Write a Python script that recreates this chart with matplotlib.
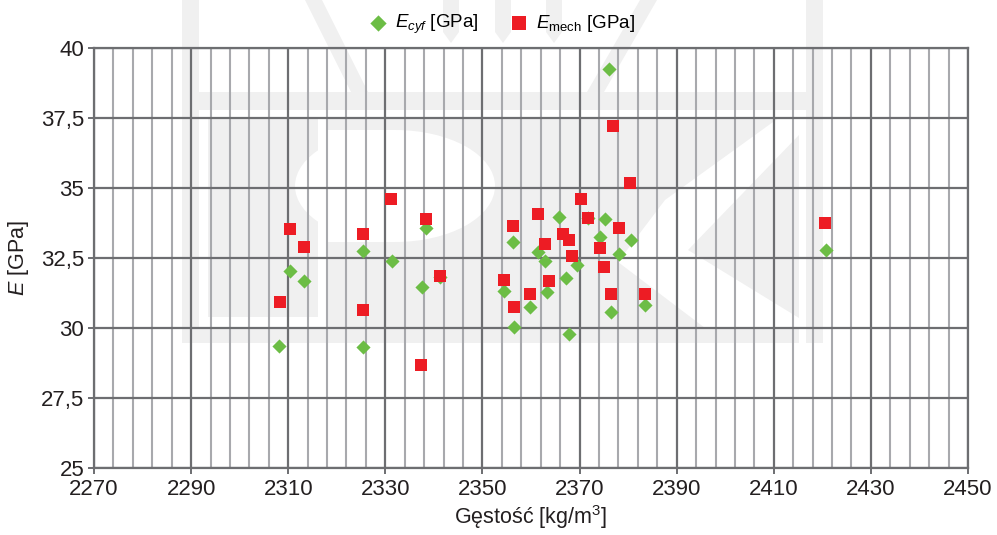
import numpy as np
import matplotlib
matplotlib.use("Agg")
import matplotlib.pyplot as plt
from matplotlib.patches import Polygon, Ellipse, Rectangle
from matplotlib.ticker import FixedLocator, FuncFormatter

plt.rcParams['font.family'] = ['Liberation Sans', 'DejaVu Sans']
plt.rcParams['mathtext.fontset'] = 'custom'
plt.rcParams['mathtext.rm'] = 'Liberation Sans'
plt.rcParams['mathtext.it'] = 'Liberation Sans:italic'

# gęstość i moduł E (cyfrowy)
gestosc_cyf = [2308.2, 2310.4, 2313.2, 2325.4, 2325.4, 2331.3, 2337.5, 2338.4, 2341.3,
               2356.3, 2361.5, 2362.9, 2365.8, 2371.8, 2375.2, 2374.2, 2380.5, 2378.1,
               2369.5, 2367.3, 2354.4, 2363.2, 2359.8, 2376.4, 2383.5, 2356.6, 2367.9,
               2376.1, 2420.7]
e_cyf = [29.38, 32.06, 31.70, 32.75, 29.34, 32.41, 31.49, 33.59, 31.84,
         33.07, 32.74, 32.41, 33.96, 33.95, 33.91, 33.27, 33.15, 32.66,
         32.25, 31.81, 31.34, 31.31, 30.76, 30.59, 30.83, 30.04, 29.79,
         39.26, 32.80]

# gęstość i moduł E (mechaniczny)
gestosc_mech = [2308.3, 2310.4, 2313.2, 2325.4, 2325.4, 2331.1, 2337.3, 2338.3, 2341.2,
                2354.4, 2356.3, 2356.5, 2359.8, 2361.4, 2362.9, 2363.7, 2366.6, 2367.8,
                2368.4, 2370.3, 2371.8, 2374.2, 2375.0, 2376.5, 2378.1, 2380.4, 2383.5,
                2376.8, 2420.5]
e_mech = [30.93, 33.54, 32.89, 33.36, 30.64, 34.61, 28.68, 33.89, 31.86,
          31.71, 33.64, 30.76, 31.21, 34.07, 33.00, 31.68, 33.37, 33.15,
          32.57, 34.61, 33.94, 32.86, 32.18, 31.21, 33.57, 35.20, 31.21,
          37.21, 33.75]

W, H = 997, 535
fig = plt.figure(figsize=(W / 100, H / 100), dpi=100)
fig.patch.set_facecolor('white')

# znak wodny w tle (współrzędne w pikselach od lewego górnego rogu)
WM = '#f0f0f0'


def pt(x, y):
    return (x / W, 1 - y / H)


def rect(x0, y0, x1, y1, color):
    fig.patches.append(Rectangle(pt(x0, y1), (x1 - x0) / W, (y1 - y0) / H,
                                 transform=fig.transFigure, color=color, lw=0, zorder=-5))


def poly(points, color):
    fig.patches.append(Polygon([pt(x, y) for x, y in points], closed=True,
                               transform=fig.transFigure, color=color, lw=0, zorder=-5))


rect(182, 92, 823, 343, WM)
rect(182, 0, 199, 343, WM)
rect(806, 0, 823, 343, WM)
# korona nad literami
poly([(305, 0), (322, 0), (368, 92), (351, 92)], WM)
poly([(443, 0), (459, 0), (459, 32), (451, 43), (443, 32)], WM)
poly([(495, 0), (511, 0), (511, 32), (503, 43), (495, 32)], WM)
poly([(546, 0), (562, 0), (562, 32), (554, 43), (546, 32)], WM)
poly([(640, 0), (657, 0), (604, 92), (587, 92)], WM)
# białe kontury liter P i K
rect(199, 110, 806, 117, 'white')
rect(199, 110, 208, 328, 'white')
rect(199, 317, 326, 328, 'white')
rect(318, 117, 326, 317, 'white')
rect(799, 110, 806, 343, 'white')
fig.patches.append(Ellipse(pt(395, 186), 200 / W, 112 / H, transform=fig.transFigure,
                           color='white', lw=0, zorder=-5))
rect(326, 130, 395, 242, 'white')
poly([(780, 117), (799, 117), (799, 135), (688, 250), (799, 318), (799, 328),
      (705, 328), (618, 262), (665, 200)], 'white')

ax = fig.add_axes([94 / W, 1 - 468.3 / H, 874 / W, 420 / H])
ax.set_facecolor('none')

ax.scatter(gestosc_cyf, e_cyf, marker='D', s=52, color='#6cbd45', lw=0, zorder=3,
           label=r'$\mathit{E}_{\mathit{cyf}}$ [GPa]')
ax.scatter(gestosc_mech, e_mech, marker='s', s=76, color='#ed1c24', lw=0, zorder=4,
           label=r'$\mathit{E}_{\mathrm{mech}}$ [GPa]')

ax.set_xlim(2270, 2450)
ax.set_ylim(25, 40)
ax.set_xticks(np.arange(2270, 2451, 20))
ax.set_yticks(np.arange(25, 40.1, 2.5))
ax.xaxis.set_minor_locator(FixedLocator(np.arange(2270, 2451, 4)))
ax.yaxis.set_major_formatter(FuncFormatter(lambda v, p: f'{v:g}'.replace('.', ',')))

ax.grid(which='minor', axis='x', color='#a8a9ad', lw=1.5, zorder=1)
ax.grid(which='major', color='#6d6e71', lw=1.6, zorder=2)
ax.set_axisbelow(True)
for side in ['left', 'bottom', 'top', 'right']:
    ax.spines[side].set_color('#6d6e71')
    ax.spines[side].set_linewidth(1.6)

ax.tick_params(which='major', length=4, width=1.4, color='#6d6e71',
               labelsize=16, labelcolor='#231f20')
ax.tick_params(axis='x', which='major', pad=4)
ax.tick_params(axis='y', which='major', pad=3)
ax.tick_params(which='minor', length=0)

ax.set_xlabel('Gęstość [kg/m$^3$]', fontsize=15.5, color='#231f20', labelpad=2)
ax.set_ylabel(r'$\mathit{E}$ [GPa]', fontsize=15.5, color='#231f20', labelpad=7)

ax.legend(loc='center', bbox_to_anchor=(0.4665, 1.056), ncol=2, frameon=False,
          fontsize=13.5, handlelength=1.0, handletextpad=0.4, columnspacing=1.7,
          borderaxespad=0, markerscale=1.15)

fig.savefig('out.png', dpi=100)
